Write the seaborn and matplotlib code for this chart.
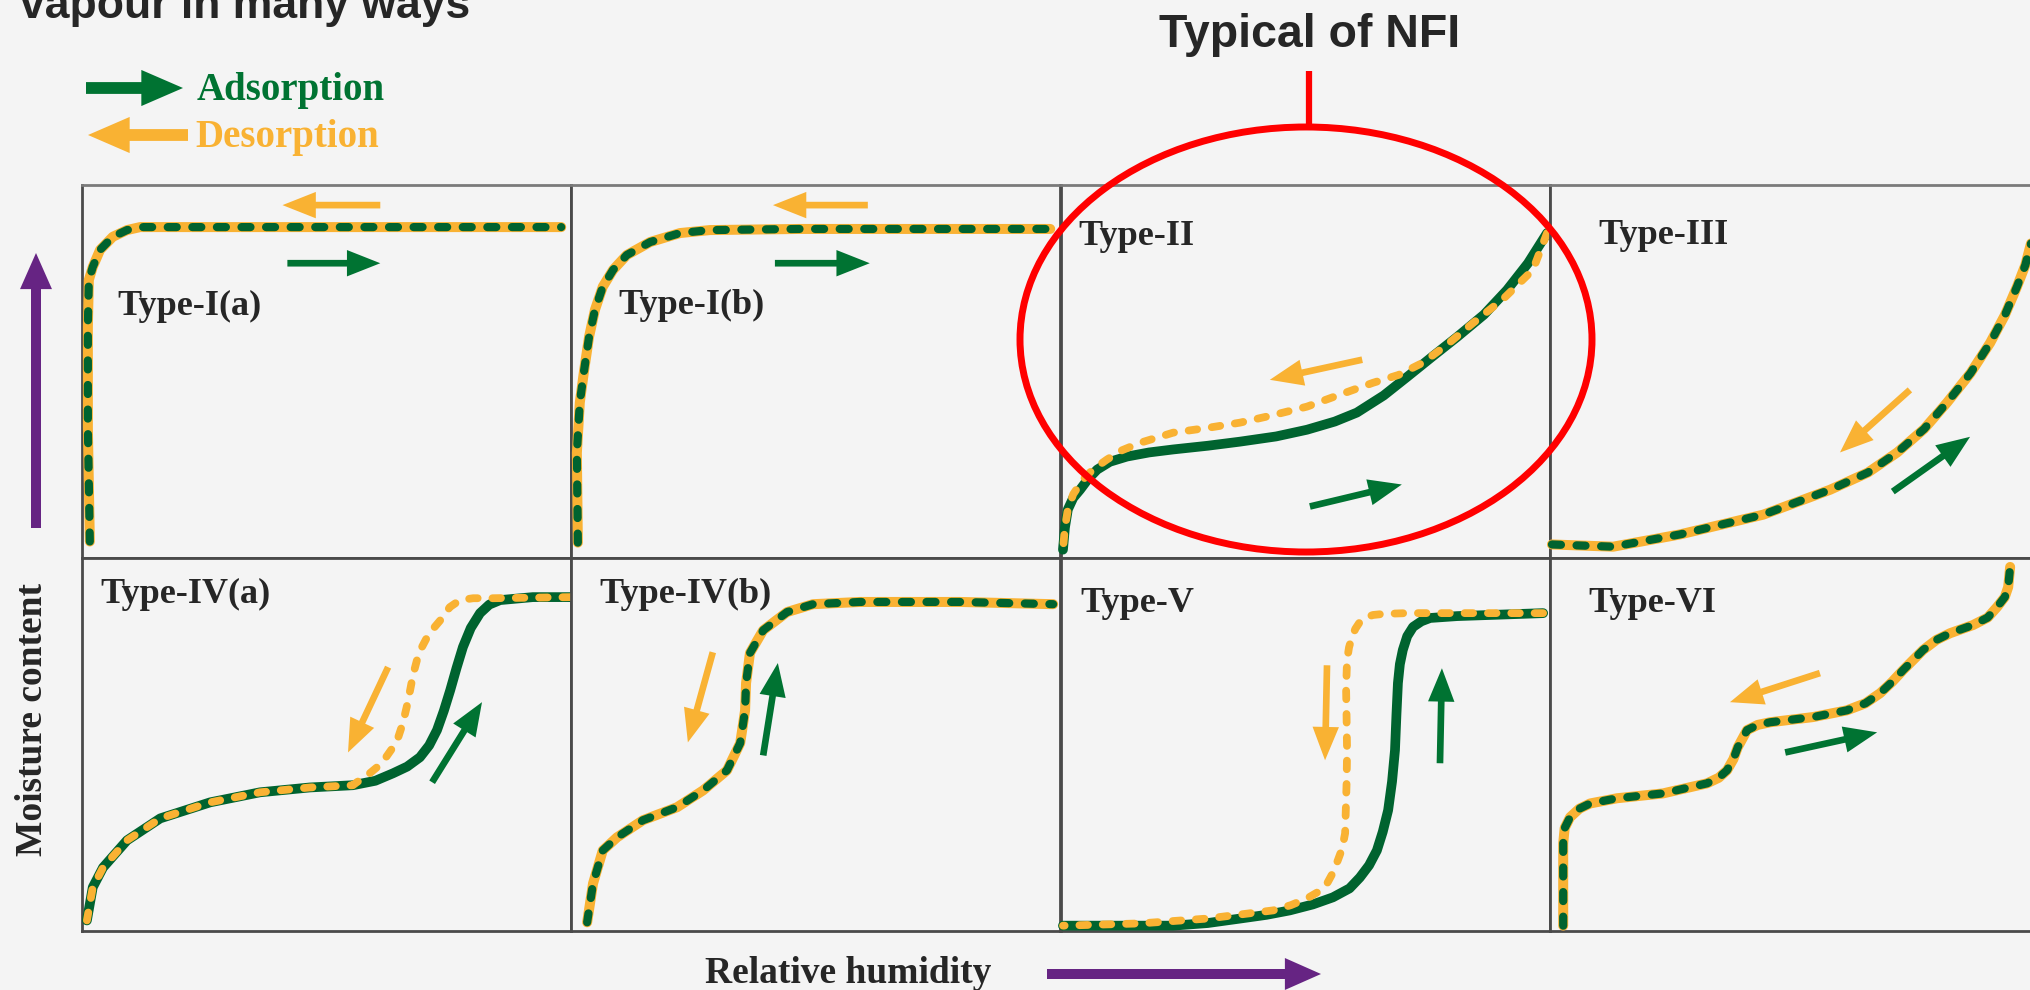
import seaborn as sns
import matplotlib.pyplot as plt
from matplotlib.patches import Ellipse

# ---- data: isotherm branches, x = relative humidity, y = moisture content (0-1 inside each panel)
types = ["Type-I(a)", "Type-I(b)", "Type-II", "Type-III",
         "Type-IV(a)", "Type-IV(b)", "Type-V", "Type-VI"]

ads_1a_x = [0.016, 0.012, 0.012, 0.014, 0.022, 0.037, 0.063, 0.092, 0.119, 0.98]
ads_1a_y = [0.043, 0.35, 0.62, 0.745, 0.78, 0.826, 0.861, 0.879, 0.887, 0.887]

ads_1b_x = [0.014, 0.012, 0.018, 0.027, 0.037, 0.049, 0.065, 0.086, 0.114, 0.162, 0.223, 0.284, 0.468, 0.98]
ads_1b_y = [0.040, 0.281, 0.416, 0.504, 0.593, 0.665, 0.727, 0.772, 0.812, 0.847, 0.871, 0.879, 0.882, 0.882]

ads_2_x = [0.004, 0.008, 0.014, 0.025, 0.039, 0.055, 0.074, 0.100, 0.135, 0.180, 0.229, 0.300,
           0.366, 0.440, 0.503, 0.560, 0.605, 0.660, 0.708, 0.760, 0.810, 0.865, 0.912, 0.955, 0.994]
ads_2_y = [0.021, 0.080, 0.129, 0.160, 0.182, 0.210, 0.236, 0.257, 0.271, 0.282, 0.290, 0.300,
           0.311, 0.325, 0.343, 0.365, 0.389, 0.435, 0.485, 0.540, 0.592, 0.652, 0.718, 0.790, 0.871]
des_2_x = [0.994, 0.965, 0.905, 0.843, 0.790, 0.740, 0.690, 0.638, 0.570, 0.503, 0.430, 0.366,
           0.300, 0.229, 0.162, 0.125, 0.094, 0.065, 0.045, 0.025, 0.014, 0.008, 0.004]
des_2_y = [0.871, 0.772, 0.695, 0.630, 0.572, 0.523, 0.490, 0.469, 0.437, 0.405, 0.381, 0.362,
           0.348, 0.335, 0.308, 0.288, 0.263, 0.236, 0.209, 0.170, 0.129, 0.080, 0.021]

ads_3_x = [0.004, 0.129, 0.266, 0.436, 0.573, 0.650, 0.710, 0.765, 0.812, 0.860, 0.900, 0.930,
           0.955, 0.972, 0.984, 1.0]
ads_3_y = [0.035, 0.029, 0.062, 0.115, 0.182, 0.228, 0.282, 0.345, 0.416, 0.495, 0.576, 0.650,
           0.727, 0.785, 0.845, 0.92]

ads_4a_x = [0.010, 0.022, 0.043, 0.092, 0.160, 0.262, 0.364, 0.466, 0.554, 0.600, 0.636, 0.665,
            0.691, 0.710, 0.726, 0.740, 0.753, 0.766, 0.779, 0.795, 0.814, 0.833, 0.855, 0.922, 1.0]
ads_4a_y = [0.027, 0.116, 0.169, 0.242, 0.301, 0.344, 0.371, 0.384, 0.390, 0.402, 0.422, 0.440,
            0.465, 0.497, 0.538, 0.590, 0.645, 0.705, 0.761, 0.812, 0.852, 0.875, 0.887, 0.895, 0.895]
des_4a_x = [1.0, 0.840, 0.800, 0.773, 0.752, 0.738, 0.720, 0.706, 0.694, 0.685, 0.677, 0.671,
            0.664, 0.656, 0.647, 0.636, 0.620, 0.603, 0.582, 0.562, 0.554, 0.466, 0.364, 0.262,
            0.160, 0.092, 0.043, 0.022, 0.010]
des_4a_y = [0.895, 0.892, 0.892, 0.887, 0.868, 0.841, 0.813, 0.788, 0.758, 0.726, 0.686, 0.645,
            0.600, 0.556, 0.520, 0.492, 0.462, 0.438, 0.415, 0.398, 0.390, 0.384, 0.371, 0.344,
            0.301, 0.242, 0.169, 0.116, 0.027]

ads_4b_x = [0.033, 0.045, 0.065, 0.094, 0.147, 0.217, 0.270, 0.319, 0.346, 0.356, 0.358,
            0.366, 0.393, 0.442, 0.495, 0.591, 0.796, 0.986]
ads_4b_y = [0.022, 0.126, 0.215, 0.250, 0.296, 0.331, 0.376, 0.430, 0.503, 0.591, 0.664,
            0.745, 0.806, 0.855, 0.876, 0.882, 0.882, 0.876]

ads_5_x = [0.004, 0.229, 0.300, 0.366, 0.420, 0.468, 0.515, 0.556, 0.590, 0.611, 0.630, 0.646,
           0.658, 0.669, 0.677, 0.683, 0.686, 0.689, 0.693, 0.699, 0.708, 0.720, 0.737, 0.755,
           0.810, 0.986]
ads_5_y = [0.013, 0.013, 0.020, 0.032, 0.042, 0.054, 0.070, 0.089, 0.113, 0.142, 0.175, 0.215,
           0.265, 0.323, 0.400, 0.484, 0.580, 0.664, 0.715, 0.753, 0.790, 0.815, 0.830, 0.839,
           0.844, 0.852]
des_5_x = [0.986, 0.708, 0.660, 0.638, 0.622, 0.611, 0.602, 0.595, 0.589, 0.585, 0.583, 0.584,
           0.585, 0.584, 0.581, 0.575, 0.566, 0.556, 0.544, 0.525, 0.503, 0.470, 0.434, 0.299,
           0.162, 0.004]
des_5_y = [0.852, 0.852, 0.850, 0.847, 0.840, 0.828, 0.810, 0.788, 0.760, 0.726, 0.650, 0.573,
           0.480, 0.395, 0.261, 0.220, 0.188, 0.155, 0.126, 0.103, 0.086, 0.068, 0.054, 0.032,
           0.019, 0.013]

ads_6_x = [0.027, 0.027, 0.030, 0.041, 0.060, 0.082, 0.137, 0.231, 0.321, 0.345, 0.362, 0.375,
           0.384, 0.403, 0.425, 0.450, 0.538, 0.607, 0.645, 0.675, 0.700, 0.722, 0.763, 0.790,
           0.818, 0.865, 0.895, 0.914, 0.930, 0.937, 0.941]
ads_6_y = [0.013, 0.234, 0.275, 0.304, 0.327, 0.341, 0.355, 0.368, 0.395, 0.410, 0.430, 0.460,
           0.492, 0.538, 0.552, 0.559, 0.573, 0.591, 0.610, 0.637, 0.668, 0.699, 0.753, 0.780,
           0.798, 0.820, 0.840, 0.868, 0.895, 0.922, 0.976]

ads_x = [ads_1a_x, ads_1b_x, ads_2_x, ads_3_x, ads_4a_x, ads_4b_x, ads_5_x, ads_6_x]
ads_y = [ads_1a_y, ads_1b_y, ads_2_y, ads_3_y, ads_4a_y, ads_4b_y, ads_5_y, ads_6_y]
# None = desorption follows the adsorption branch (no hysteresis)
des_x = [None, None, des_2_x, None, des_4a_x, None, des_5_x, None]
des_y = [None, None, des_2_y, None, des_4a_y, None, des_5_y, None]

# ---- style / layout
BG = "#f4f4f4"
GREEN = "#00632f"
GREEN_ARROW = "#007332"
ORANGE = "#f9b233"
PURPLE = "#662483"
RED = "#ff0000"
SPINE = "#4a4a4a"
W, H = 2031, 990
col_left = [82, 571, 1061, 1550]
row_top = [185, 558]
pw, ph = 489, 372.5
DASH = (0, (1.1, 1.9))

# direction arrows inside each panel: (start, end) for desorption and adsorption
des_arrows = [((0.61, 0.946), (0.41, 0.946)), ((0.607, 0.946), (0.413, 0.946)),
              ((0.616, 0.531), (0.427, 0.477)), ((0.736, 0.450), (0.593, 0.282)),
              ((0.626, 0.707), (0.544, 0.478)), ((0.290, 0.747), (0.239, 0.505)),
              ((0.544, 0.712), (0.540, 0.457)), ((0.552, 0.691), (0.368, 0.613))]
ads_arrows = [((0.42, 0.79), (0.61, 0.79)), ((0.417, 0.79), (0.611, 0.79)),
              ((0.509, 0.137), (0.697, 0.196)), ((0.701, 0.177), (0.859, 0.324)),
              ((0.716, 0.398), (0.818, 0.613)), ((0.393, 0.470), (0.423, 0.718)),
              ((0.775, 0.449), (0.779, 0.704)), ((0.481, 0.478), (0.669, 0.532))]
label_pos = [(0.072, 0.651), (0.096, 0.654), (0.035, 0.839), (0.098, 0.842),
             (0.037, 0.879), (0.059, 0.879), (0.039, 0.855), (0.078, 0.855)]

sns.set_style("white")
plt.rcParams["font.family"] = ["Liberation Serif", "DejaVu Serif"]
SANS = ["Liberation Sans", "DejaVu Sans"]


def arrow(ax, start, end, color, hl, hw, tw, ms=10):
    ax.annotate("", xy=end, xytext=start, annotation_clip=False,
                arrowprops=dict(arrowstyle=f"simple,head_length={hl},head_width={hw},tail_width={tw}",
                                color=color, lw=0, shrinkA=0, shrinkB=0, mutation_scale=ms))


def branch(ax, xs, ys, color, lw, dashed, z):
    sns.lineplot(x=xs, y=ys, ax=ax, sort=False, estimator=None, color=color, linewidth=lw,
                 linestyle=DASH if dashed else "-", solid_capstyle="round",
                 dash_capstyle="round", solid_joinstyle="round", dash_joinstyle="round",
                 clip_on=False, zorder=z, legend=False)


fig = plt.figure(figsize=(W / 100, H / 100), dpi=100, facecolor=BG)

for i, name in enumerate(types):
    r, c = divmod(i, 4)
    ax = fig.add_axes([col_left[c] / W, 1 - (row_top[r] + ph) / H, pw / W, ph / H])
    ax.set_facecolor(BG)
    ax.set_xlim(0, 1)
    ax.set_ylim(0, 1)
    ax.set_xticks([])
    ax.set_yticks([])
    for side, sp in ax.spines.items():
        sp.set_color(SPINE)
        sp.set_linewidth(2.0)
    if r == 0:
        ax.spines["top"].set_color("#7a7a7a")

    if des_x[i] is None:
        branch(ax, ads_x[i], ads_y[i], ORANGE, 7.2, False, 3)
        branch(ax, ads_x[i], ads_y[i], GREEN, 5.9, True, 4)
    else:
        branch(ax, ads_x[i], ads_y[i], GREEN, 7.0, False, 3)
        branch(ax, des_x[i], des_y[i], ORANGE, 5.6, True, 4)

    arrow(ax, *des_arrows[i], ORANGE, 2.4, 1.9, 0.48)
    arrow(ax, *ads_arrows[i], GREEN_ARROW, 2.4, 1.9, 0.48)
    ax.text(*label_pos[i], name, transform=ax.transAxes, fontsize=26,
            fontweight="bold", ha="left", va="baseline")

# ---- overlay in pixel coordinates: titles, legend, axis arrows, highlight
ov = fig.add_axes([0, 0, 1, 1])
ov.set_xlim(0, W)
ov.set_ylim(H, 0)
ov.axis("off")
ov.patch.set_alpha(0)

ov.text(20, 18, "vapour in many ways", family=SANS, fontweight="bold", fontsize=32,
        ha="left", va="baseline")
ov.text(1310, 47, "Typical of NFI", family=SANS, fontweight="bold", fontsize=33.5,
        ha="center", va="baseline")
ov.plot([1309, 1309], [71, 128], color=RED, lw=4.5, solid_capstyle="butt")
ov.add_patch(Ellipse((1306, 339.5), 572, 425, fill=False, edgecolor=RED, lw=5))

# legend
arrow(ov, (86, 88), (183, 88), GREEN_ARROW, 3.0, 2.6, 0.85)
ov.text(197, 100, "Adsorption", color=GREEN_ARROW, fontsize=28, fontweight="bold",
        ha="left", va="baseline")
arrow(ov, (188, 135), (88, 135), ORANGE, 3.0, 2.6, 0.85)
ov.text(195, 147, "Desorption", color=ORANGE, fontsize=28, fontweight="bold",
        ha="left", va="baseline")

# axis labels and arrows
arrow(ov, (36, 528), (36, 253), PURPLE, 2.6, 2.3, 0.72)
ov.text(33, 720, "Moisture content", rotation=90, fontsize=27, fontweight="bold",
        ha="center", va="center")
arrow(ov, (1047, 974), (1321, 974), PURPLE, 2.6, 2.3, 0.72)
ov.text(848, 983, "Relative humidity", fontsize=27, fontweight="bold",
        ha="center", va="baseline")

plt.savefig("out.png", dpi=100, facecolor=BG)
